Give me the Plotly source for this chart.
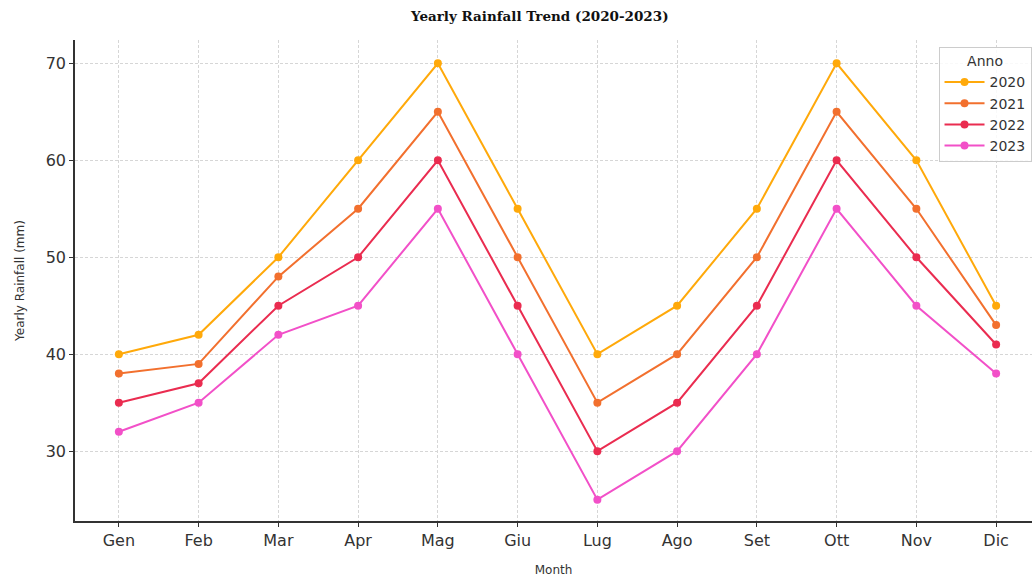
import plotly.graph_objects as go

months = ["Gen", "Feb", "Mar", "Apr", "Mag", "Giu", "Lug", "Ago", "Set", "Ott", "Nov", "Dic"]
years = ["2020", "2021", "2022", "2023"]
rain_2020 = [40, 42, 50, 60, 70, 55, 40, 45, 55, 70, 60, 45]
rain_2021 = [38, 39, 48, 55, 65, 50, 35, 40, 50, 65, 55, 43]
rain_2022 = [35, 37, 45, 50, 60, 45, 30, 35, 45, 60, 50, 41]
rain_2023 = [32, 35, 42, 45, 55, 40, 25, 30, 40, 55, 45, 38]
colors = ["#FFA90A", "#F2702E", "#EA2C50", "#F250C8"]

series = [rain_2020, rain_2021, rain_2022, rain_2023]

fig = go.Figure()
for year, vals, col in zip(years, series, colors):
    fig.add_trace(go.Scatter(
        x=list(range(len(months))), y=vals, name=year, mode="lines+markers",
        line=dict(color=col, width=2), marker=dict(color=col, size=8),
    ))

grid = dict(showgrid=True, gridcolor="#d6d6d6", griddash="3px,2px", gridwidth=1)
fig.update_layout(
    width=1032, height=577,
    margin=dict(l=75, r=0, t=40, b=53),
    paper_bgcolor="white", plot_bgcolor="white",
    title=dict(text="<b>Yearly Rainfall Trend (2020-2023)</b>", x=0.523, xanchor="center",
               y=0.972, yanchor="middle",
               font=dict(family="DejaVu Serif", size=13.5, color="#111111")),
    font=dict(family="DejaVu Sans", color="#333333"),
    xaxis=dict(
        range=[-0.55, 11.45], tickmode="array", tickvals=list(range(len(months))), ticktext=months,
        tickfont=dict(size=16, color="#333333"), ticks="outside", ticklen=4, tickcolor="#333333",
        showline=True, linecolor="#333333", linewidth=1.5, zeroline=False,
        title=dict(text="Month", font=dict(size=12, color="#333333"), standoff=19),
        **grid,
    ),
    yaxis=dict(
        range=[22.8, 72.4], tickvals=[30, 40, 50, 60, 70],
        tickfont=dict(size=16, color="#333333"), ticks="outside", ticklen=4, tickcolor="#333333",
        showline=True, linecolor="#333333", linewidth=1.5, zeroline=False,
        title=dict(text="Yearly Rainfall (mm)", font=dict(size=12, color="#333333"), standoff=18),
        **grid,
    ),
    legend=dict(
        title=dict(text="Anno", side="top center", font=dict(size=14, color="#333333")),
        x=0.9995, y=0.985, xanchor="right", yanchor="top",
        bgcolor="rgba(255,255,255,0.85)", bordercolor="#cccccc", borderwidth=1,
        font=dict(size=14, color="#333333"), itemwidth=40, tracegroupgap=0,
    ),
)

fig.write_html("out.html")
